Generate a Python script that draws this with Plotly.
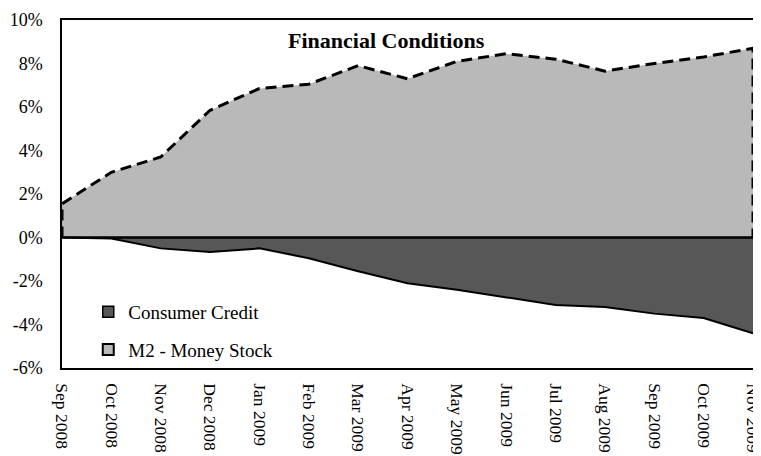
import plotly.graph_objects as go

months = ["Sep 2008", "Oct 2008", "Nov 2008", "Dec 2008", "Jan 2009", "Feb 2009",
          "Mar 2009", "Apr 2009", "May 2009", "Jun 2009", "Jul 2009", "Aug 2009",
          "Sep 2009", "Oct 2009", "Nov 2009"]
m2_money_stock = [1.55, 3.0, 3.7, 5.85, 6.85, 7.05, 7.9, 7.3, 8.1, 8.45, 8.2, 7.65, 8.0, 8.3, 8.7]
consumer_credit = [0.0, -0.05, -0.5, -0.67, -0.5, -0.95, -1.55, -2.1, -2.4, -2.74, -3.1, -3.2, -3.5, -3.7, -4.4]
y_ticks = [-6, -4, -2, 0, 2, 4, 6, 8, 10]

serif = "Liberation Serif, Times New Roman, serif"
LIGHT = "#b9b9b9"
DARK = "#575757"

fig = go.Figure()

# M2 area (closed polygon so edges are outlined, as in the original)
fig.add_trace(go.Scatter(
    x=[months[0]] + months + [months[-1]],
    y=[0] + m2_money_stock + [0],
    mode="lines", fill="toself", fillcolor=LIGHT,
    line=dict(color="black", width=3, dash="11px,6px"),
    name="M2 - Money Stock", showlegend=False, legendgroup="m2",
    hoverinfo="skip"))

fig.add_trace(go.Scatter(
    x=months, y=consumer_credit, mode="lines", fill="tozeroy",
    fillcolor=DARK, line=dict(color="black", width=2),
    name="Consumer Credit", showlegend=False, legendgroup="cc"))

# zero line
fig.add_trace(go.Scatter(x=[months[0], months[-1]], y=[0, 0], mode="lines",
                         line=dict(color="black", width=2.5), showlegend=False,
                         hoverinfo="skip"))

# legend entries (square swatches as in the original)
fig.add_trace(go.Scatter(x=[None], y=[None], mode="markers", name="Consumer Credit",
                         legendgroup="cc", legendrank=1,
                         marker=dict(symbol="square", size=11, color=DARK,
                                     line=dict(color="black", width=1.5))))
fig.add_trace(go.Scatter(x=[None], y=[None], mode="markers", name="M2 - Money Stock",
                         legendgroup="m2", legendrank=2,
                         marker=dict(symbol="square", size=11, color=LIGHT,
                                     line=dict(color="black", width=2))))

fig.add_annotation(text="<b>Financial Conditions</b>", x=0.469, y=0.9425,
                   xref="paper", yref="paper", xanchor="center", yanchor="middle",
                   showarrow=False, font=dict(family=serif, size=22, color="black"))

# the page adds an 8px body margin, so the figure is sized to fit the window
fig.update_layout(
    width=753, height=448,
    margin=dict(l=54, r=8, t=12, b=88),
    paper_bgcolor="white", plot_bgcolor="white",
    font=dict(family=serif, color="black"),
    legend=dict(x=0.038, y=0.2155, xanchor="left", yanchor="top",
                bgcolor="rgba(0,0,0,0)", font=dict(family=serif, size=19),
                itemwidth=30, tracegroupgap=10, traceorder="grouped"),
    showlegend=True,
)
fig.update_xaxes(type="category", range=[0, len(months) - 1], tickangle=90,
                 automargin=False, ticklabeloverflow="allow", ticklabelstandoff=10,
                 showgrid=False, showline=True, linecolor="black", linewidth=1.5,
                 mirror=True, ticks="", tickfont=dict(family=serif, size=17.5))
fig.update_yaxes(range=[-6, 10], tickvals=y_ticks, automargin=False,
                 ticktext=[f"{v}%" for v in y_ticks], ticklabelstandoff=14,
                 showgrid=False, zeroline=False, showline=True, linecolor="black",
                 linewidth=1.5, mirror=True, ticks="",
                 tickfont=dict(family=serif, size=18))

fig.write_html("out.html")
